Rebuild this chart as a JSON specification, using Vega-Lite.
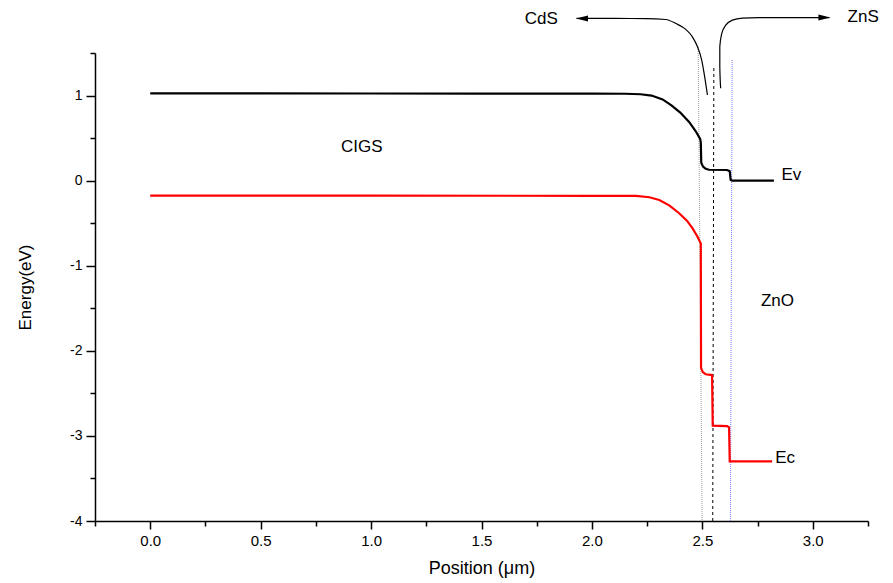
{
  "$schema": "https://vega.github.io/schema/vega-lite/v6.json",
  "width": 773,
  "height": 468,
  "autosize": {"type": "none"},
  "padding": {"left": 95, "top": 53, "right": 25, "bottom": 62},
  "background": "white",
  "config": {
    "view": {"stroke": null},
    "axis": {
      "domainColor": "black", "domainWidth": 1.5,
      "tickColor": "black", "tickWidth": 1.5,
      "labelColor": "black", "labelFont": "Liberation Sans",
      "titleColor": "black", "titleFont": "Liberation Sans", "titleFontWeight": "normal",
      "grid": false
    }
  },
  "datasets": {
    "bands": [
      {"band": "Ev", "i": 1, "x": 0.0, "y": 1.025},
      {"band": "Ev", "i": 2, "x": 0.5, "y": 1.025},
      {"band": "Ev", "i": 3, "x": 1.0, "y": 1.024},
      {"band": "Ev", "i": 4, "x": 1.5, "y": 1.023},
      {"band": "Ev", "i": 5, "x": 2.0, "y": 1.022},
      {"band": "Ev", "i": 6, "x": 2.15, "y": 1.021},
      {"band": "Ev", "i": 7, "x": 2.22, "y": 1.015},
      {"band": "Ev", "i": 8, "x": 2.27, "y": 1.0},
      {"band": "Ev", "i": 9, "x": 2.32, "y": 0.955},
      {"band": "Ev", "i": 10, "x": 2.36, "y": 0.885},
      {"band": "Ev", "i": 11, "x": 2.40, "y": 0.8},
      {"band": "Ev", "i": 12, "x": 2.44, "y": 0.69},
      {"band": "Ev", "i": 13, "x": 2.47, "y": 0.58},
      {"band": "Ev", "i": 14, "x": 2.49, "y": 0.49},
      {"band": "Ev", "i": 15, "x": 2.493, "y": 0.45},
      {"band": "Ev", "i": 16, "x": 2.495, "y": 0.21},
      {"band": "Ev", "i": 17, "x": 2.503, "y": 0.165},
      {"band": "Ev", "i": 18, "x": 2.515, "y": 0.14},
      {"band": "Ev", "i": 19, "x": 2.53, "y": 0.128},
      {"band": "Ev", "i": 20, "x": 2.612, "y": 0.125},
      {"band": "Ev", "i": 21, "x": 2.624, "y": 0.11},
      {"band": "Ev", "i": 22, "x": 2.628, "y": 0.01},
      {"band": "Ev", "i": 23, "x": 2.635, "y": 0.0},
      {"band": "Ev", "i": 24, "x": 2.824, "y": 0.0},
      {"band": "Ec", "i": 1, "x": 0.0, "y": -0.175},
      {"band": "Ec", "i": 2, "x": 1.0, "y": -0.177},
      {"band": "Ec", "i": 3, "x": 2.0, "y": -0.178},
      {"band": "Ec", "i": 4, "x": 2.2, "y": -0.18},
      {"band": "Ec", "i": 5, "x": 2.26, "y": -0.195},
      {"band": "Ec", "i": 6, "x": 2.305, "y": -0.227},
      {"band": "Ec", "i": 7, "x": 2.35, "y": -0.29},
      {"band": "Ec", "i": 8, "x": 2.395, "y": -0.383},
      {"band": "Ec", "i": 9, "x": 2.43, "y": -0.47},
      {"band": "Ec", "i": 10, "x": 2.455, "y": -0.559},
      {"band": "Ec", "i": 11, "x": 2.478, "y": -0.66},
      {"band": "Ec", "i": 12, "x": 2.493, "y": -0.74},
      {"band": "Ec", "i": 13, "x": 2.494, "y": -2.2},
      {"band": "Ec", "i": 14, "x": 2.502, "y": -2.25},
      {"band": "Ec", "i": 15, "x": 2.515, "y": -2.275},
      {"band": "Ec", "i": 16, "x": 2.544, "y": -2.285},
      {"band": "Ec", "i": 17, "x": 2.547, "y": -2.88},
      {"band": "Ec", "i": 18, "x": 2.612, "y": -2.885},
      {"band": "Ec", "i": 19, "x": 2.621, "y": -2.9},
      {"band": "Ec", "i": 20, "x": 2.624, "y": -3.3},
      {"band": "Ec", "i": 21, "x": 2.816, "y": -3.3}
    ],
    "guides": [
      {"g": "gray", "x": 2.481, "y": 1.57},
      {"g": "gray", "x": 2.499, "y": -4},
      {"g": "dash", "x": 2.552, "y": 1.34},
      {"g": "dash", "x": 2.547, "y": -4},
      {"g": "blue", "x": 2.635, "y": 1.42},
      {"g": "blue", "x": 2.627, "y": -4}
    ],
    "curves": [
      {"c": "cds", "i": 1, "x": 1.93, "y": 1.906},
      {"c": "cds", "i": 2, "x": 2.1, "y": 1.906},
      {"c": "cds", "i": 3, "x": 2.244, "y": 1.905},
      {"c": "cds", "i": 4, "x": 2.335, "y": 1.894},
      {"c": "cds", "i": 5, "x": 2.38, "y": 1.847},
      {"c": "cds", "i": 6, "x": 2.425, "y": 1.777},
      {"c": "cds", "i": 7, "x": 2.455, "y": 1.69},
      {"c": "cds", "i": 8, "x": 2.478, "y": 1.573},
      {"c": "cds", "i": 9, "x": 2.497, "y": 1.417},
      {"c": "cds", "i": 10, "x": 2.508, "y": 1.261},
      {"c": "cds", "i": 11, "x": 2.523, "y": 1.006},
      {"c": "zns", "i": 1, "x": 2.583, "y": 1.085},
      {"c": "zns", "i": 2, "x": 2.579, "y": 1.338},
      {"c": "zns", "i": 3, "x": 2.579, "y": 1.573},
      {"c": "zns", "i": 4, "x": 2.588, "y": 1.73},
      {"c": "zns", "i": 5, "x": 2.606, "y": 1.827},
      {"c": "zns", "i": 6, "x": 2.636, "y": 1.886},
      {"c": "zns", "i": 7, "x": 2.681, "y": 1.911},
      {"c": "zns", "i": 8, "x": 2.756, "y": 1.916},
      {"c": "zns", "i": 9, "x": 3.075, "y": 1.916}
    ],
    "heads": [
      {"dir": "left", "x": 1.928, "y": 1.906},
      {"dir": "right", "x": 3.08, "y": 1.916}
    ],
    "labels": [
      {"t": "CIGS", "x": 0.958, "y": 0.4},
      {"t": "ZnO", "x": 2.84, "y": -1.42},
      {"t": "Ev", "x": 2.903, "y": 0.067},
      {"t": "Ec", "x": 2.875, "y": -3.258},
      {"t": "CdS", "x": 1.771, "y": 1.894},
      {"t": "ZnS", "x": 3.228, "y": 1.918}
    ]
  },
  "encoding": {
    "x": {
      "field": "x", "type": "quantitative",
      "scale": {"domain": [-0.25, 3.25], "nice": false, "zero": false},
      "axis": {
        "title": "Position (μm)",
        "titleFontSize": 18, "titlePadding": 11,
        "values": [-0.25, 0, 0.25, 0.5, 0.75, 1, 1.25, 1.5, 1.75, 2, 2.25, 2.5, 2.75, 3, 3.25],
        "labelExpr": "datum.value % 0.5 === 0 ? format(datum.value, '.1f') : ''",
        "labelFontSize": 15, "labelPadding": 4, "labelFlush": false, "labelOverlap": false,
        "tickSize": {"condition": {"test": "datum.value % 0.5 !== 0", "value": 5}, "value": 8}
      }
    },
    "y": {
      "field": "y", "type": "quantitative",
      "scale": {"domain": [-4, 1.5], "nice": false, "zero": false},
      "axis": {
        "title": "Energy(eV)",
        "titleFontSize": 17, "titlePadding": 35,
        "values": [-4, -3.5, -3, -2.5, -2, -1.5, -1, -0.5, 0, 0.5, 1, 1.5],
        "labelExpr": "datum.value % 1 === 0 ? '' + datum.value : ''",
        "labelFontSize": 14, "labelPadding": 4, "labelFlush": false, "labelOverlap": false,
        "tickSize": {"condition": {"test": "datum.value % 1 !== 0", "value": 5}, "value": 9}
      }
    }
  },
  "layer": [
    {
      "data": {"name": "guides"},
      "transform": [{"filter": "datum.g === 'gray'"}],
      "mark": {"type": "line", "stroke": "#9a9a9a", "strokeWidth": 1, "strokeDash": [1, 1]}
    },
    {
      "data": {"name": "guides"},
      "transform": [{"filter": "datum.g === 'dash'"}],
      "mark": {"type": "line", "stroke": "#000000", "strokeWidth": 1, "strokeDash": [3, 3]}
    },
    {
      "data": {"name": "guides"},
      "transform": [{"filter": "datum.g === 'blue'"}],
      "mark": {"type": "line", "stroke": "#7b7bff", "strokeWidth": 1, "strokeDash": [1, 1]}
    },
    {
      "data": {"name": "bands"},
      "mark": {"type": "line", "strokeWidth": 2.2},
      "encoding": {
        "color": {
          "field": "band", "type": "nominal",
          "scale": {"domain": ["Ev", "Ec"], "range": ["#000000", "#ff0000"]},
          "legend": null
        },
        "order": {"field": "i", "type": "quantitative"}
      }
    },
    {
      "data": {"name": "curves"},
      "mark": {"type": "line", "stroke": "#000000", "strokeWidth": 1.2, "interpolate": "monotone"},
      "encoding": {
        "detail": {"field": "c", "type": "nominal"},
        "order": {"field": "i", "type": "quantitative"}
      }
    },
    {
      "data": {"name": "heads"},
      "transform": [{"filter": "datum.dir === 'left'"}],
      "mark": {"type": "point", "shape": "M 0 0 L 2 -0.5 L 2 0.5 Z", "size": 144, "filled": true, "color": "#000000", "opacity": 1}
    },
    {
      "data": {"name": "heads"},
      "transform": [{"filter": "datum.dir === 'right'"}],
      "mark": {"type": "point", "shape": "M 0 0 L -2 -0.5 L -2 0.5 Z", "size": 144, "filled": true, "color": "#000000", "opacity": 1}
    },
    {
      "data": {"name": "labels"},
      "mark": {"type": "text", "font": "Liberation Sans", "fontSize": 17, "color": "#000000", "align": "center", "baseline": "middle"},
      "encoding": {
        "text": {"field": "t", "type": "nominal"}
      }
    }
  ]
}
